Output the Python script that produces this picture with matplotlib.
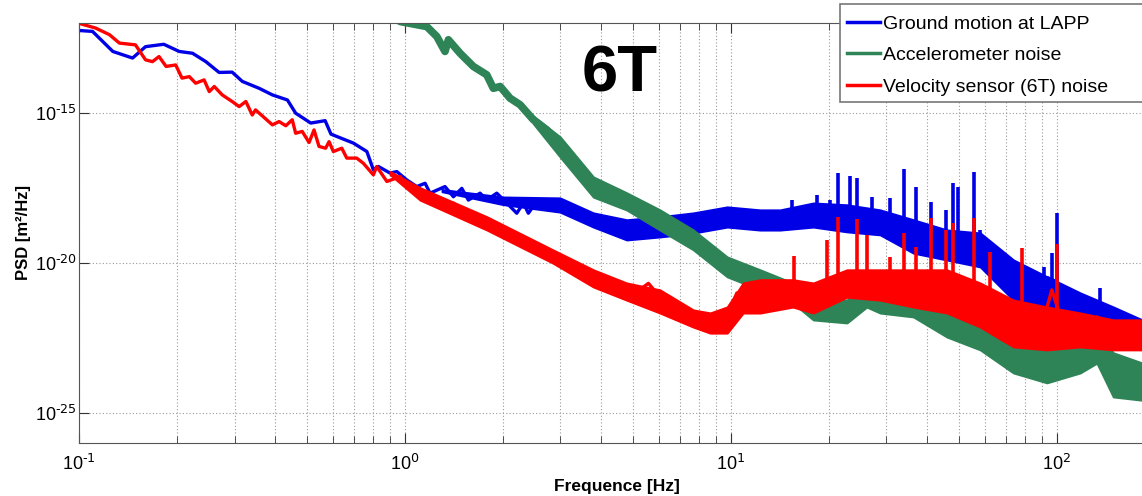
import numpy as np
import matplotlib
matplotlib.use("Agg")
import matplotlib.pyplot as plt
from matplotlib.lines import Line2D
from matplotlib.patches import Rectangle
from matplotlib.ticker import FuncFormatter, NullLocator

plt.rcParams["font.family"] = ["Liberation Sans", "DejaVu Sans"]
plt.rcParams["mathtext.default"] = "regular"
plt.rcParams["axes.unicode_minus"] = False

# All PSD values are log10 of PSD [m^2/Hz], frequencies in Hz.

# Ground motion at LAPP: main trace
ground_f = [0.100, 0.110, 0.127, 0.146, 0.160, 0.182, 0.203, 0.223, 0.245, 0.269,
            0.295, 0.317, 0.357, 0.392, 0.436, 0.462, 0.514, 0.569, 0.593, 0.695,
            0.764, 0.800, 0.829, 0.900, 0.944, 1.013, 1.087, 1.153, 1.194, 1.327,
            1.408, 1.494, 1.565, 1.700, 1.782, 1.913, 2.053, 2.203, 2.308, 2.391,
            2.537, 2.788, 2.992, 3.137, 3.446, 3.785, 4.259, 4.792, 5.390, 6.064,
            6.508, 7.151, 7.673, 8.233, 9.052, 9.943, 11.19, 12.29, 13.83, 15.0,
            17.10, 18.8, 20.16, 22.7, 25.5, 28.7, 30.0, 33.0, 36.31, 38.97,
            42.84, 46.6, 51.0, 52.94, 56.9, 60.0, 62.42, 68.58, 73.61, 80.89,
            88.87, 94.0, 98.5, 104.8, 117.9, 130.0, 149.1, 164.0, 182.7, 200.0]
ground_p = [-12.24, -12.27, -12.94, -13.16, -12.78, -12.70, -12.94, -13.00, -13.28, -13.64,
            -13.63, -13.94, -14.17, -14.39, -14.56, -15.00, -15.33, -15.25, -15.70, -16.00,
            -16.28, -16.89, -16.78, -17.00, -16.95, -17.23, -17.45, -17.34, -17.67, -17.45,
            -17.79, -17.51, -17.90, -17.67, -17.90, -17.67, -18.00, -18.34, -18.00, -18.34,
            -17.95, -18.12, -17.90, -18.29, -18.29, -18.67, -18.79, -19.07, -18.90, -18.79,
            -18.90, -18.79, -18.79, -18.56, -18.45, -18.29, -18.40, -18.45, -18.40, -18.55,
            -18.55, -18.45, -18.35, -18.45, -18.35, -18.60, -18.70, -18.85, -18.95, -19.12,
            -19.34, -19.30, -19.30, -19.46, -19.40, -19.60, -19.68, -19.90, -20.01, -20.34,
            -20.46, -20.50, -20.60, -21.01, -21.24, -21.40, -21.68, -22.01, -22.35, -22.40]
# spread of the noisy trace (upper / lower edge)
ground_band_f = [1.3, 2.0, 2.99, 3.785, 4.79, 6.06, 7.67, 9.74, 12.29, 14.16, 17.9,
                 22.7, 28.7, 36.3, 46.0, 58.2, 73.6, 93.2, 117.9, 149.0, 182.7, 200.0]
ground_band_hi = [-17.55, -17.80, -17.83, -18.33, -18.56, -18.46, -18.33, -18.13, -18.23, -18.23, -18.00,
                  -18.06, -18.23, -18.56, -18.90, -19.00, -19.90, -20.46, -21.00, -21.47, -21.90, -22.00]
ground_band_lo = [-17.62, -18.05, -18.30, -18.80, -19.23, -19.13, -19.00, -18.80, -18.90, -18.90, -18.80,
                  -18.96, -19.06, -19.67, -19.90, -20.13, -21.24, -21.67, -21.90, -22.47, -22.90, -23.00]
# narrow lines (peaks)
ground_peak_f = [15.38, 18.34, 20.1, 21.37, 23.22, 24.34, 27.0, 30.80, 34.07, 37.01,
                 41.06, 45.64, 48.16, 49.89, 55.74, 58.15, 91.0, 96.51, 100.0, 135.8]
ground_peak_p = [-17.90, -17.73, -17.90, -17.00, -17.10, -17.17, -17.80, -17.84, -16.87, -17.45,
                 -17.95, -18.23, -17.34, -17.45, -16.98, -18.90, -20.12, -19.68, -18.32, -20.85]

# Accelerometer noise
accel_f = [0.900, 0.966, 1.167, 1.252, 1.327, 1.359, 1.476, 1.621, 1.782, 1.867,
           1.959, 2.101, 2.256, 2.477, 2.723, 2.992, 3.172, 3.287, 3.614, 3.969,
           4.360, 4.792, 5.360, 5.888, 6.358, 6.910, 7.673, 8.433, 9.267, 10.18,
           11.19, 12.29, 13.50, 14.84, 16.31, 17.50, 19.23, 22.68, 26.12, 28.70,
           31.52, 34.65, 38.07, 41.81, 45.97, 50.50, 55.48, 60.98, 66.99, 73.61,
           82.81, 93.18, 102.3, 112.4, 126.5, 142.3, 156.4, 164.0, 171.9, 182.7,
           200.0]
accel_p = [-11.70, -11.94, -12.11, -12.44, -12.94, -12.55, -13.00, -13.44, -13.72, -14.17,
           -14.11, -14.50, -14.72, -15.22, -15.56, -16.03, -16.50, -16.67, -17.17, -17.56,
           -17.73, -17.95, -18.12, -18.40, -18.62, -18.84, -19.18, -19.51, -19.90, -20.12,
           -20.23, -20.51, -20.68, -20.90, -21.07, -21.29, -21.57, -21.79, -21.01, -21.24,
           -21.57, -21.24, -21.35, -21.68, -22.01, -22.24, -22.13, -22.35, -22.80, -23.24,
           -23.57, -23.68, -23.52, -23.46, -23.01, -23.35, -24.13, -23.46, -24.35, -24.35,
           -24.40]
accel_band_f = [2.477, 2.992, 3.785, 4.79, 6.06, 7.67, 9.74, 12.29, 15.5, 17.9, 22.7,
                26.1, 28.7, 36.3, 46.0, 58.2, 73.6, 93.2, 117.9, 132.7, 149.0, 182.7, 200.0]
accel_band_hi = [-15.10, -15.79, -17.13, -17.66, -18.23, -18.90, -19.80, -20.23, -20.67, -21.14, -21.24,
                 -20.46, -20.67, -20.90, -21.47, -21.90, -22.47, -22.90, -22.80, -22.34, -23.00, -23.34, -23.40]
accel_band_lo = [-15.35, -16.46, -17.80, -18.23, -18.90, -19.56, -20.46, -20.90, -21.34, -21.90, -22.00,
                 -21.47, -21.67, -21.80, -22.47, -22.90, -23.67, -24.00, -23.67, -23.34, -24.47, -24.58, -24.60]

# Velocity sensor (6T) noise
velo_f = [0.100, 0.1125, 0.124, 0.133, 0.149, 0.160, 0.168, 0.176, 0.185, 0.198,
          0.207, 0.218, 0.228, 0.242, 0.251, 0.260, 0.275, 0.295, 0.310, 0.325,
          0.340, 0.348, 0.392, 0.411, 0.431, 0.451, 0.462, 0.484, 0.508, 0.526,
          0.545, 0.571, 0.585, 0.603, 0.640, 0.663, 0.711, 0.745, 0.800, 0.819,
          0.880, 0.966, 1.037, 1.113, 1.222, 1.344, 1.408, 1.511, 1.661, 1.782,
          1.959, 2.151, 2.364, 2.597, 2.854, 3.137, 3.287, 3.614, 3.969, 4.360,
          4.792, 5.144, 5.585, 5.924, 6.358, 6.823, 7.495, 8.045, 8.635, 9.378,
          9.943, 10.43, 11.19, 11.59, 12.29, 12.65, 13.99, 14.84, 16.69, 17.10,
          18.34, 20.63, 22.41, 25.2, 27.36, 28.70, 32.29, 35.90, 38.97, 42.84,
          46.9, 51.10, 58.15, 66.99, 71.92, 84.76, 90.98, 96.51, 104.8, 112.4,
          120.6, 132.7, 145.7, 160.2, 182.7, 200.0]
velo_p = [-12.00, -12.16, -12.38, -12.66, -12.72, -13.22, -13.28, -13.11, -13.44, -13.39,
          -13.83, -13.78, -14.00, -13.89, -14.28, -14.11, -14.39, -14.61, -14.78, -14.61,
          -15.06, -14.89, -15.39, -15.28, -15.42, -15.22, -15.67, -15.61, -15.98, -15.56,
          -16.11, -16.17, -15.95, -16.28, -16.17, -16.50, -16.50, -16.67, -17.06, -16.78,
          -17.28, -17.12, -17.51, -17.67, -17.90, -18.12, -18.00, -18.29, -18.51, -18.67,
          -18.79, -19.12, -19.29, -19.57, -19.73, -19.90, -20.18, -20.34, -20.57, -20.79,
          -21.01, -20.96, -20.68, -21.01, -21.46, -21.29, -21.68, -22.01, -21.79, -22.13,
          -21.57, -21.00, -21.01, -20.70, -21.24, -20.80, -21.50, -21.01, -21.24, -21.01,
          -21.30, -20.50, -20.79, -20.60, -20.50, -20.70, -20.79, -20.79, -20.57, -20.50,
          -20.60, -20.79, -21.35, -21.46, -21.90, -22.13, -21.90, -20.90, -22.13, -21.80,
          -22.40, -21.80, -22.13, -22.35, -22.35, -22.40]
velo_band_f = [0.90, 1.113, 1.785, 2.84, 3.785, 4.79, 6.06, 7.67, 8.64, 9.74,
               10.9, 12.29, 15.5, 17.9, 22.7, 28.7, 36.3, 46.0, 58.2, 73.6,
               93.2, 117.9, 149.0, 182.7, 200.0]
velo_band_hi = [-16.95, -17.49, -18.46, -19.56, -20.23, -20.67, -20.90, -21.57, -21.67, -21.47,
                -20.67, -20.56, -20.56, -20.67, -20.23, -20.23, -20.23, -20.23, -20.67, -21.24,
                -21.47, -21.67, -21.90, -21.90, -21.95]
velo_band_lo = [-17.05, -17.90, -18.90, -20.00, -20.80, -21.24, -21.67, -22.14, -22.34, -22.34,
                -21.67, -21.67, -21.47, -21.67, -21.14, -21.24, -21.47, -21.67, -22.14, -22.80,
                -22.90, -22.80, -22.90, -22.90, -22.95]
velo_peak_f = [15.66, 19.68, 21.37, 24.44, 26.12, 30.80, 34.07, 37.01, 41.06, 45.64,
               48.16, 55.74, 62.42, 78.10, 100.0]
velo_peak_p = [-19.76, -19.23, -18.45, -18.54, -19.07, -19.79, -19.01, -19.46, -18.51, -18.90,
               -18.67, -18.51, -19.62, -19.51, -19.37]

series = [
    dict(label="Ground motion at LAPP", color="#0000e6", f=ground_f, p=ground_p, lw=2.4,
         band=(ground_band_f, ground_band_lo, ground_band_hi),
         peaks=(ground_peak_f, ground_peak_p)),
    dict(label="Accelerometer noise", color="#2e8456", f=accel_f, p=accel_p, lw=5.5,
         band=(accel_band_f, accel_band_lo, accel_band_hi), peaks=None),
    dict(label="Velocity sensor (6T) noise", color="#ff0000", f=velo_f, p=velo_p, lw=2.4,
         band=(velo_band_f, velo_band_lo, velo_band_hi),
         peaks=(velo_peak_f, velo_peak_p)),
]

fig = plt.figure(figsize=(11.42, 4.96), dpi=100)
ax = fig.add_axes([79 / 1142, 1 - 442.7 / 496, (1155 - 79) / 1142, (442.7 - 23.3) / 496])

for z, s in enumerate(series):
    c = s["color"]
    bf, blo, bhi = s["band"]
    ax.fill_between(bf, 10.0 ** np.array(blo), 10.0 ** np.array(bhi),
                    color=c, lw=1.5, edgecolor=c, zorder=2 + z)
    ax.plot(s["f"], 10.0 ** np.array(s["p"]), color=c, lw=s["lw"], zorder=2 + z)
    if s["peaks"] is not None:
        pf, pp = s["peaks"]
        base = np.interp(np.log10(pf), np.log10(bf), blo)
        ax.vlines(pf, 10.0 ** base, 10.0 ** np.array(pp), color=c, lw=2.6, zorder=2 + z)

ax.set_xscale("log")
ax.set_yscale("log")
ax.set_xlim(0.1, 200)
ax.set_ylim(1e-26, 1e-12)
ax.set_yticks([1e-25, 1e-20, 1e-15])
ax.yaxis.set_minor_locator(NullLocator())

# MATLAB style labels: 10 with a hyphen exponent
pow_fmt = FuncFormatter(lambda v, pos: r"$10^{\text{%d}}$" % round(np.log10(v)))
ax.xaxis.set_major_formatter(pow_fmt)
ax.yaxis.set_major_formatter(pow_fmt)

ax.grid(True, which="major", axis="both", linestyle=(0, (1, 2)), color="#999999", lw=0.8)
ax.grid(True, which="minor", axis="x", linestyle=(0, (1, 2)), color="#999999", lw=0.8)
ax.set_axisbelow(True)
ax.tick_params(which="both", direction="in", top=True, right=False, labelsize=13,
               colors="#333333", labelcolor="black")
ax.tick_params(which="major", length=7)
ax.tick_params(which="minor", length=5)
ax.tick_params(axis="x", pad=8)
ax.tick_params(axis="y", pad=1.5)
for sp in ax.spines.values():
    sp.set_color("#555555")
    sp.set_zorder(10)

ax.set_xlabel("Frequence [Hz]", fontsize=12.5, fontweight="bold", labelpad=4)
ax.set_ylabel("PSD [m²/Hz]", fontsize=12, fontweight="bold", labelpad=2.5)

fig.text(620 / 1142, 1 - 75 / 496, "6T", fontsize=47, fontweight="bold",
         ha="center", va="center")

# legend box, partly cut off at the right edge of the picture
fig.patches.append(Rectangle((840 / 1142, 1 - 102 / 496), 320 / 1142, 98 / 496,
                             transform=fig.transFigure, facecolor="white",
                             edgecolor="#777777", lw=1.2, zorder=5))
handles = [Line2D([], [], color=s["color"], lw=2.5) for s in series]
labels = [s["label"] for s in series]
leg = fig.legend(handles, labels, loc="upper left",
                 bbox_to_anchor=(847 / 1142, 1 - 15 / 496), frameon=False,
                 fontsize=14, handlelength=1.7, handletextpad=0.15,
                 labelspacing=0.72, borderaxespad=0, borderpad=0)
leg.set_zorder(6)

fig.savefig("out.png", dpi=100)
